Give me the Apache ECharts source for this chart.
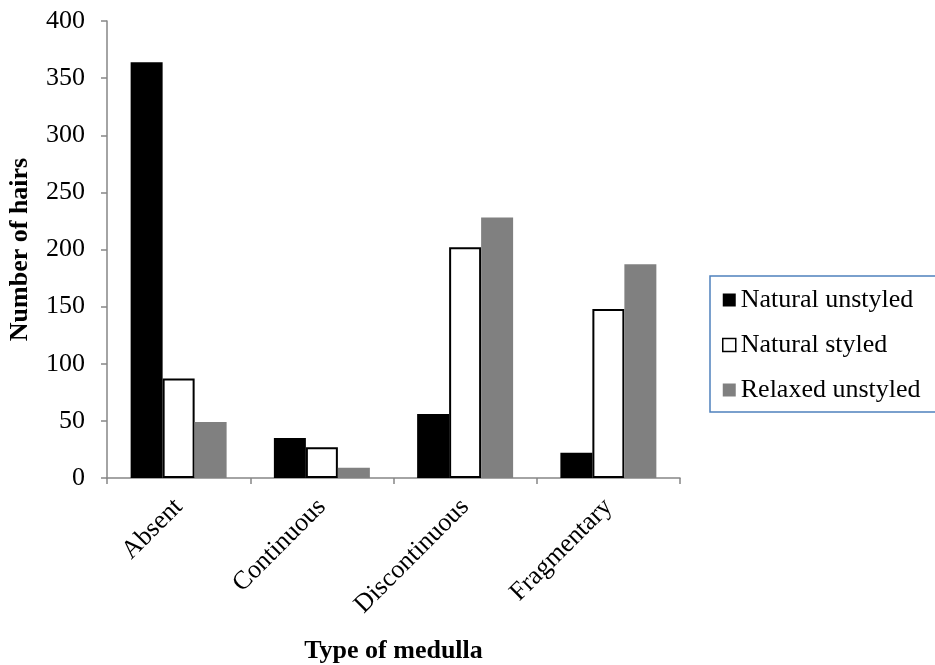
<!DOCTYPE html>
<html>
<head>
<meta charset="utf-8">
<script src="https://cdn.jsdelivr.net/npm/echarts@6/dist/echarts.min.js"></script>
<style>
  html, body { margin: 0; padding: 0; background: #fff; }
  #chart { width: 935px; height: 665px; }
</style>
</head>
<body>
<div id="chart"></div>
<script>
// data
const categories = ['Absent', 'Continuous', 'Discontinuous', 'Fragmentary'];
const naturalUnstyled = [364, 35, 56, 22];
const naturalStyled = [87, 27, 202, 148];
const relaxedUnstyled = [49, 9, 228, 187];
const yTicks = [0, 50, 100, 150, 200, 250, 300, 350, 400];

const font = 'Liberation Serif, Times New Roman, serif';
const axisGray = '#868686';

const chart = echarts.init(document.getElementById('chart'));

chart.setOption({
  animation: false,
  textStyle: { fontFamily: font },
  grid: { left: 107, right: 255, top: 21, bottom: 187, outerBoundsMode: 'none', containLabel: false },
  // legend frame runs past the right edge in the original
  graphic: [{
    type: 'rect',
    shape: { x: 710, y: 276, width: 240, height: 136 },
    style: { fill: 'none', stroke: '#4f81bd', lineWidth: 1.5 }
  }],
  legend: {
    orient: 'vertical',
    left: 722,
    top: 287,
    padding: 0,
    itemGap: 19,
    itemWidth: 13,
    itemHeight: 13,
    textStyle: { fontFamily: font, fontSize: 26, color: '#000', lineHeight: 26 },
    data: [
      { name: 'Natural unstyled', icon: 'rect', itemStyle: { color: '#000', borderWidth: 0 } },
      { name: 'Natural styled', icon: 'rect', itemStyle: { color: '#fff', borderColor: '#000', borderWidth: 1.5 } },
      { name: 'Relaxed unstyled', icon: 'rect', itemStyle: { color: '#808080', borderWidth: 0 } }
    ]
  },
  xAxis: {
    type: 'category',
    data: categories,
    name: 'Type of medulla',
    nameLocation: 'middle',
    nameGap: 160,
    nameTextStyle: { fontFamily: font, fontSize: 26, fontWeight: 'bold', color: '#000' },
    axisLine: { lineStyle: { color: axisGray, width: 1.5 } },
    axisTick: { show: true, length: 6, lineStyle: { color: axisGray, width: 1.5 } },
    axisLabel: { rotate: 45, fontSize: 26, color: '#000', margin: 25, fontFamily: font }
  },
  yAxis: {
    type: 'value',
    min: yTicks[0],
    max: yTicks[yTicks.length - 1],
    interval: 50,
    name: 'Number of hairs',
    nameLocation: 'middle',
    nameGap: 74,
    nameTextStyle: { fontFamily: font, fontSize: 26, fontWeight: 'bold', color: '#000' },
    splitLine: { show: false },
    axisLine: { show: true, lineStyle: { color: axisGray, width: 1.5 } },
    axisTick: { show: true, length: 6, lineStyle: { color: axisGray, width: 1.5 } },
    axisLabel: { fontSize: 26, color: '#000', margin: 22, fontFamily: font }
  },
  series: [
    {
      name: 'Natural unstyled',
      type: 'bar',
      data: naturalUnstyled,
      barGap: '0%',
      barCategoryGap: '33%',
      itemStyle: { color: '#000' }
    },
    {
      name: 'Natural styled',
      type: 'bar',
      data: naturalStyled,
      itemStyle: { color: '#fff', borderColor: '#000', borderWidth: 2 }
    },
    {
      name: 'Relaxed unstyled',
      type: 'bar',
      data: relaxedUnstyled,
      itemStyle: { color: '#808080' }
    }
  ]
});
</script>
</body>
</html>
